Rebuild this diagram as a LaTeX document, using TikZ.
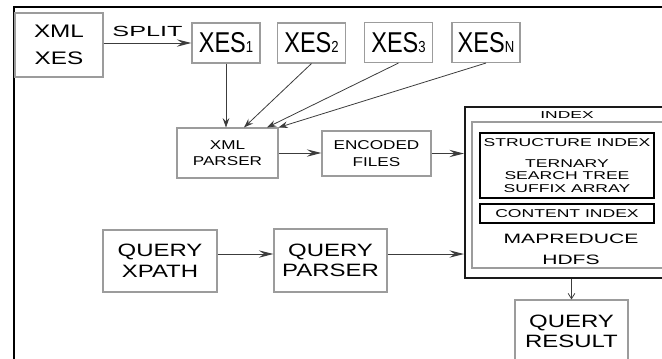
\documentclass[tikz,border=0pt]{standalone}
\usepackage{fontspec}
\setmainfont{Liberation Sans}
\newfontfamily\widefont[FakeStretch=1.34]{Liberation Sans}
\newfontfamily\widerfont[FakeStretch=1.55]{Liberation Sans}
\newfontfamily\xwidefont[FakeStretch=1.72]{Liberation Sans}
\newfontfamily\narrowfont[FakeStretch=0.82]{Liberation Sans}
\usepackage{tikz}
\usetikzlibrary{arrows.meta, calc}
\definecolor{boxframe}{HTML}{9C9C9C}
\definecolor{linkgray}{HTML}{3C3C3C}
\definecolor{indexframe}{HTML}{1A1A1A}

% XES with its small index digit at the baseline
\newcommand\xesname[1]{XES{\fontsize{12}{12}\selectfont #1}}

\begin{document}
\begin{tikzpicture}[x=0.75pt, y=-0.75pt,
    procbox/.style={
        rectangle, draw=boxframe, line width=0.8pt,
        fill=white, align=center, inner sep=0pt,
    },
    bigbox/.style={
        procbox, font=\widefont\fontsize{13.4}{15.5}\selectfont,
    },
    smallbox/.style={
        procbox, font=\widefont\fontsize{9.6}{12.2}\selectfont,
    },
    xesbox/.style={
        procbox, minimum width=51pt, minimum height=30pt,
        font=\narrowfont\fontsize{21.5}{22}\selectfont,
    },
    indexouter/.style={
        rectangle, draw=indexframe, line width=1.5pt, inner sep=0pt,
    },
    indexinner/.style={
        rectangle, draw=boxframe, line width=0.8pt, inner sep=0pt,
    },
    subindex/.style={
        rectangle, draw=black, line width=1pt, inner sep=0pt,
        align=center, font=\widerfont\fontsize{8.5}{9.4}\selectfont,
    },
    mainlink/.style={
        draw=linkgray, line width=0.75pt,
        -{Stealth[length=11pt, width=5.5pt, inset=4pt]},
    },
    feedlink/.style={
        draw=linkgray, line width=0.6pt,
        -{Stealth[length=7pt, width=5pt, inset=2.5pt]},
    },
]
\useasboundingbox (0,0) rectangle (662,358);
\clip (0,0) rectangle (662,358);

% ── Outer frame ───────────────────────────────────────────────────────
\draw[line width=1.5pt] (14,365) |- (670,7);

% ── Input and split parts ─────────────────────────────────────────────
\node[bigbox, minimum width=66pt, minimum height=48pt,
      font=\widefont\fontsize{13.6}{20}\selectfont] (xmlxes) at (59,45) {XML\\XES};
\node[xesbox] (xes1) at (226,43) {\xesname{1}};
\node[xesbox] (xes2) at (311.5,43) {\xesname{2}};
\node[xesbox] (xes3) at (398.5,42.5) {\xesname{3}};
\node[xesbox] (xesn) at (486,42.5) {\xesname{N}};

% ── Parsing ───────────────────────────────────────────────────────────
\node[smallbox, minimum width=75.75pt, minimum height=37.5pt] (parser) at (227.5,153) {XML\\PARSER};
\node[smallbox, minimum width=81.75pt, minimum height=33.75pt] (encoded) at (376.5,153.5) {ENCODED\\FILES};

% ── Index block ───────────────────────────────────────────────────────
\node[indexouter, minimum width=161.25pt, minimum height=128.25pt] (index) at (572.5,192.5) {};
\node[indexinner, minimum width=152.25pt, minimum height=109.5pt] (indexin) at (573.5,195) {};
\node[font=\xwidefont\fontsize{7.6}{8}\selectfont] (indexlbl) at (567,115) {INDEX};
\node[subindex, minimum width=130.5pt, minimum height=48.75pt] (structure) at (567,165.5)
    {STRUCTURE INDEX\\[6pt]TERNARY\\SEARCH TREE\\SUFFIX ARRAY};
\node[subindex, minimum width=130.5pt, minimum height=14.25pt] (content) at (567,213.5) {CONTENT INDEX};
\node[font=\widerfont\fontsize{10.2}{11}\selectfont] (mapreduce) at (571,239) {MAPREDUCE};
\node[font=\widerfont\fontsize{10.2}{11}\selectfont] (hdfs) at (571,260) {HDFS};

% ── Query side ────────────────────────────────────────────────────────
\node[bigbox, minimum width=85.5pt, minimum height=46.5pt] (qxpath) at (160,261) {QUERY\\XPATH};
\node[bigbox, minimum width=84.75pt, minimum height=47.25pt] (qparser) at (330.5,260.5) {QUERY\\PARSER};
\node[bigbox, minimum width=84.75pt, minimum height=46.5pt,
      font=\widefont\fontsize{13.4}{15}\selectfont] (qresult) at (571.5,331) {QUERY\\RESULT};

% ── Links ─────────────────────────────────────────────────────────────
\draw[mainlink] (xmlxes.east |- xes1.west) -- (xes1.west)
    node[midway, above=1pt, font=\xwidefont\fontsize{11}{12}\selectfont] (splitlbl) {SPLIT};
\draw[feedlink] (xes1.south) -- (xes1.south |- parser.north);
\draw[feedlink] (xes2.south) -- ($(parser.north)+(16.5,0)$);
\draw[feedlink] (xes3.south) -- ($(parser.north)+(39.5,0)$);
\draw[feedlink] (xesn.south) -- (parser.north east);
\draw[mainlink] (parser.east) -- (parser.east -| encoded.west);
\draw[mainlink] (encoded.east) -- (encoded.east -| index.west);
\draw[mainlink] ($(qxpath.east)+(0,-7)$) -- ($(qxpath.east -| qparser.west)+(0,-7)$);
\draw[mainlink] ($(qparser.east)+(0,-6.5)$) -- ($(qparser.east -| index.west)+(0,-6.5)$);
\draw[-{Straight Barb[length=4pt, width=5pt]}, draw=linkgray, line width=0.6pt]
    (qresult.north |- index.south) -- (qresult.north);

\end{tikzpicture}
\end{document}
